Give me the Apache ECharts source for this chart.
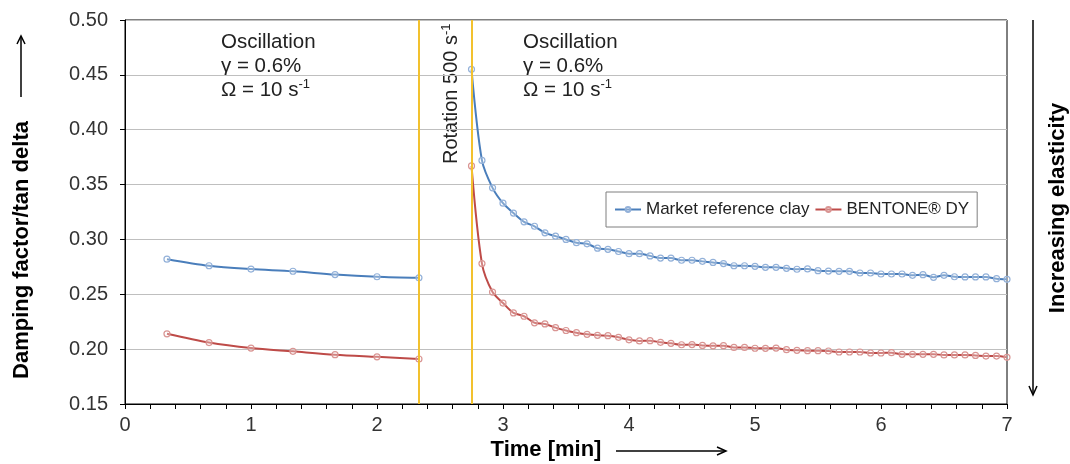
<!DOCTYPE html>
<html>
<head>
<meta charset="utf-8">
<script src="https://cdn.jsdelivr.net/npm/echarts@6/dist/echarts.min.js"></script>
<style>
  html, body { margin: 0; padding: 0; background: #fff; }
  #main { width: 1070px; height: 464px; }
</style>
</head>
<body>
<div id="main"></div>
<script>
// oscillation before rotation (every 20 s)
const timeA = [0.333, 0.667, 1.0, 1.333, 1.667, 2.0, 2.333];
const clayA = [0.282, 0.276, 0.273, 0.271, 0.268, 0.266, 0.265];
const bentA = [0.214, 0.206, 0.201, 0.198, 0.195, 0.193, 0.191];

// oscillation after rotation (every 5 s)
const timeB = [
  2.750, 2.833, 2.917, 3.000, 3.083, 3.167, 3.250, 3.333, 3.417, 3.500,
  3.583, 3.667, 3.750, 3.833, 3.917, 4.000, 4.083, 4.167, 4.250, 4.333,
  4.417, 4.500, 4.583, 4.667, 4.750, 4.833, 4.917, 5.000, 5.083, 5.167,
  5.250, 5.333, 5.417, 5.500, 5.583, 5.667, 5.750, 5.833, 5.917, 6.000,
  6.083, 6.167, 6.250, 6.333, 6.417, 6.500, 6.583, 6.667, 6.750, 6.833,
  6.917, 7.000
];
const clayB = [
  0.455, 0.372, 0.347, 0.333, 0.324, 0.316, 0.312, 0.306, 0.303, 0.300,
  0.297, 0.296, 0.292, 0.291, 0.289, 0.287, 0.287, 0.285, 0.283, 0.283,
  0.281, 0.281, 0.280, 0.279, 0.278, 0.276, 0.276, 0.2755, 0.2746, 0.2746,
  0.2737, 0.2728, 0.2731, 0.2715, 0.2712, 0.2709, 0.2709, 0.2694, 0.2694, 0.2685,
  0.2685, 0.2685, 0.2673, 0.2679, 0.2655, 0.2673, 0.2660, 0.2658, 0.2658, 0.2658,
  0.2642, 0.2636
];
const bentB = [
  0.367, 0.278, 0.252, 0.242, 0.233, 0.230, 0.224, 0.223, 0.2196, 0.217,
  0.215, 0.2135, 0.2126, 0.2123, 0.2108, 0.2085, 0.2075, 0.2077, 0.2062, 0.2053,
  0.2040, 0.2042, 0.2034, 0.2030, 0.2032, 0.2016, 0.2016, 0.2008, 0.2007, 0.2010,
  0.1995, 0.1989, 0.1986, 0.1986, 0.1983, 0.1974, 0.1974, 0.1974, 0.1965, 0.1965,
  0.1968, 0.1953, 0.1953, 0.1953, 0.1953, 0.1947, 0.1947, 0.1947, 0.1943, 0.1937,
  0.1937, 0.1925
];

// start / end of the rotation phase
const rotationMarks = [2.333, 2.75];

const seriesNames = ['Market reference clay', 'BENTONE® DY'];

// join both phases, with a gap between them
function joinPhases(tA, vA, tB, vB) {
  const out = tA.map((t, i) => [t, vA[i]]);
  out.push([2.5, '-']);
  tB.forEach((t, i) => out.push([t, vB[i]]));
  return out;
}

const FONT = 'Liberation Sans, Arial, sans-serif';
const chart = echarts.init(document.getElementById('main'));

function makeSeries(name, data, lineColor, markColor) {
  return {
    name: name,
    type: 'line',
    data: data,
    smooth: 0.3,
    connectNulls: false,
    symbol: 'circle',
    symbolSize: 6,
    lineStyle: { color: lineColor, width: 2 },
    itemStyle: { color: 'rgba(255,255,255,0.3)', borderColor: markColor, borderWidth: 1.2 },
    emphasis: { disabled: true },
    z: 3
  };
}

const clay = makeSeries(seriesNames[0], joinPhases(timeA, clayA, timeB, clayB), '#4a7ebb', '#93b1d9');
const bent = makeSeries(seriesNames[1], joinPhases(timeA, bentA, timeB, bentB), '#be4b48', '#d99593');
clay.markLine = {
  silent: true,
  symbol: 'none',
  label: { show: false },
  lineStyle: { color: '#f2c12e', width: 2, type: 'solid' },
  data: rotationMarks.map(x => ({ xAxis: x }))
};

const annText = '{n|Oscillation}\n{n|γ = 0.6%}\n{n|Ω = 10 s}{s|-1}';
const annRich = {
  n: { fontSize: 20.5, lineHeight: 24, fontFamily: FONT, fill: '#222' },
  s: { fontSize: 13, lineHeight: 13, fontFamily: FONT, fill: '#222', verticalAlign: 'top' }
};

const options = {
  animation: false,
  backgroundColor: '#fff',
  grid: {
    left: 125, right: 63, top: 20, bottom: 60,
    show: true, borderColor: '#000', borderWidth: 1
  },
  legend: {
    left: 606, top: 192,
    padding: [9, 8],
    itemWidth: 26, itemHeight: 6, itemGap: 5,
    borderColor: '#7f7f7f', borderWidth: 1, borderRadius: 0,
    textStyle: { fontSize: 17, fontFamily: FONT, color: '#222' },
    data: seriesNames
  },
  xAxis: {
    type: 'value',
    min: 0, max: 7, interval: 1,
    axisLine: { lineStyle: { color: '#000', width: 1 } },
    axisTick: { show: true, inside: false, length: 5, lineStyle: { color: '#000' } },
    minorTick: { show: true, splitNumber: 5, length: 5, lineStyle: { color: '#000' } },
    splitLine: { show: false },
    axisLabel: { fontSize: 20, fontFamily: FONT, color: '#333', margin: 11 }
  },
  yAxis: {
    type: 'value',
    min: 0.15, max: 0.5, interval: 0.05,
    axisLine: { show: true, lineStyle: { color: '#000', width: 1 } },
    axisTick: { show: true, inside: false, length: 5, lineStyle: { color: '#000' } },
    splitLine: { lineStyle: { color: '#bfbfbf', width: 1 } },
    axisLabel: {
      fontSize: 20, fontFamily: FONT, color: '#333', margin: 17,
      formatter: v => v.toFixed(2)
    }
  },
  graphic: [
    // annotations
    { type: 'text', x: 221, y: 30, silent: true,
      style: { text: annText, rich: annRich, font: '20.5px ' + FONT } },
    { type: 'text', x: 523, y: 30, silent: true,
      style: { text: annText, rich: annRich, font: '20.5px ' + FONT } },
    { type: 'text', x: 451, y: 164, rotation: Math.PI / 2, silent: true,
      style: {
        text: '{n|Rotation 500 s}{s|-1}',
        rich: {
          n: { fontSize: 20, lineHeight: 22, fontFamily: FONT, fill: '#222' },
          s: { fontSize: 13, lineHeight: 13, fontFamily: FONT, fill: '#222', verticalAlign: 'top' }
        },
        textAlign: 'left', textVerticalAlign: 'middle', align: 'left', verticalAlign: 'middle'
      } },
    // y axis title with arrow
    { type: 'text', x: 22, y: 250, rotation: Math.PI / 2, silent: true,
      style: {
        text: 'Damping factor/tan delta', fill: '#000', font: 'bold 22px ' + FONT,
        textAlign: 'center', textVerticalAlign: 'middle', align: 'center', verticalAlign: 'middle'
      } },
    { type: 'line', silent: true, shape: { x1: 21, y1: 97, x2: 21, y2: 37 }, style: { stroke: '#000', lineWidth: 1.5 } },
    { type: 'polyline', silent: true, shape: { points: [[17, 44], [21, 36], [25, 44]] }, style: { stroke: '#000', lineWidth: 1.5, fill: null } },
    // right title with arrow
    { type: 'text', x: 1058, y: 208, rotation: Math.PI / 2, silent: true,
      style: {
        text: 'Increasing elasticity', fill: '#000', font: 'bold 22px ' + FONT,
        textAlign: 'center', textVerticalAlign: 'middle', align: 'center', verticalAlign: 'middle'
      } },
    { type: 'line', silent: true, shape: { x1: 1033, y1: 20, x2: 1033, y2: 394 }, style: { stroke: '#000', lineWidth: 1.5 } },
    { type: 'polyline', silent: true, shape: { points: [[1029, 386], [1033, 395], [1037, 386]] }, style: { stroke: '#000', lineWidth: 1.5, fill: null } },
    // x axis title with arrow
    { type: 'text', x: 546, y: 450, silent: true,
      style: {
        text: 'Time [min]', fill: '#000', font: 'bold 22px ' + FONT,
        textAlign: 'center', textVerticalAlign: 'middle', align: 'center', verticalAlign: 'middle'
      } },
    { type: 'line', silent: true, shape: { x1: 616, y1: 451, x2: 725, y2: 451 }, style: { stroke: '#000', lineWidth: 1.5 } },
    { type: 'polyline', silent: true, shape: { points: [[717, 447], [726, 451], [717, 455]] }, style: { stroke: '#000', lineWidth: 1.5, fill: null } }
  ],
  series: [clay, bent]
};

chart.setOption(options);
</script>
</body>
</html>
